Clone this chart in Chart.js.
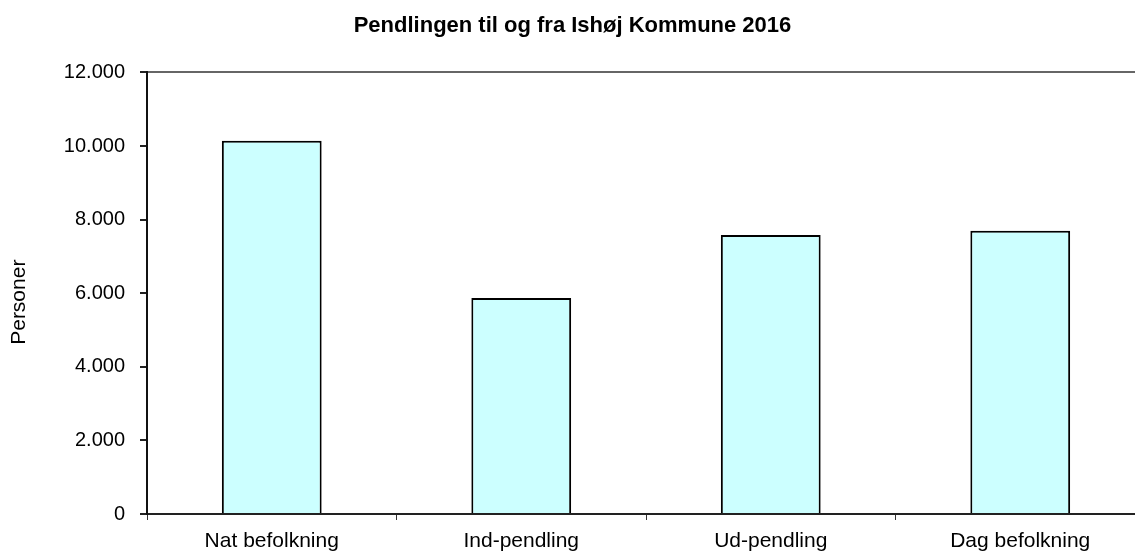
<!DOCTYPE html>
<html>
<head>
<meta charset="utf-8">
<script src="https://cdn.jsdelivr.net/npm/chart.js@4.4.0/dist/chart.umd.min.js"></script>
<style>
  html, body { margin: 0; padding: 0; background: #fff; overflow: hidden; }
  #wrap { position: relative; width: 1145px; height: 551px; }
</style>
</head>
<body>
<div id="wrap"><canvas id="c"></canvas></div>
<script>
const categories = ["Nat befolkning", "Ind-pendling", "Ud-pendling", "Dag befolkning"];
const personer = [10140, 5870, 7580, 7700];
const yTicks = [0, 2000, 4000, 6000, 8000, 10000, 12000];
const chartTitle = "Pendlingen til og fra Ishøj Kommune 2016";
const yAxisTitle = "Personer";

function fmt(v) {
  return String(v).replace(/\B(?=(\d{3})+(?!\d))/g, ".");
}

Chart.defaults.font.family = "'Liberation Sans', Arial, sans-serif";
Chart.defaults.color = "#000";

const yTitlePlugin = {
  id: "yTitlePlugin",
  afterDraw(chart) {
    const ctx = chart.ctx;
    const area = chart.chartArea;
    ctx.save();
    ctx.translate(19, (area.top + area.bottom) / 2 + 9);
    ctx.rotate(-Math.PI / 2);
    ctx.font = "21px 'Liberation Sans', Arial, sans-serif";
    ctx.fillStyle = "#000";
    ctx.textAlign = "center";
    ctx.textBaseline = "middle";
    ctx.fillText(yAxisTitle, 0, 0);
    ctx.restore();
  }
};

new Chart(document.getElementById("c"), {
  type: "bar",
  data: {
    labels: categories,
    datasets: [{
      data: personer,
      backgroundColor: "#CCFFFF",
      borderColor: "#000",
      borderWidth: 2,
      borderSkipped: "start",
      barPercentage: 0.4,
      categoryPercentage: 1.0
    }]
  },
  options: {
    responsive: true,
    maintainAspectRatio: false,
    animation: false,
    layout: { padding: { left: 0, right: 0, top: 0, bottom: 0 } },
    plugins: {
      legend: { display: false },
      tooltip: { enabled: false },
      title: {
        display: true,
        text: chartTitle,
        font: { size: 22, weight: "bold" },
        color: "#000",
        padding: { top: 13, bottom: 33 }
      }
    },
    scales: {
      x: {
        offset: true,
        border: { display: true, color: "#222", width: 2 },
        grid: {
          display: true,
          offset: true,
          drawOnChartArea: false,
          drawTicks: true,
          tickLength: 6,
          tickColor: "#333",
          tickWidth: 1
        },
        ticks: { font: { size: 21 }, color: "#000", padding: 9, maxRotation: 0 },
        afterFit: function (s) { s.height = 37; }
      },
      y: {
        min: 0,
        max: 12000,
        afterBuildTicks: function (s) { s.ticks = yTicks.map(v => ({ value: v })); },
        border: { display: true, color: "#111", width: 2 },
        grid: {
          display: true,
          drawOnChartArea: true,
          drawTicks: true,
          tickLength: 7,
          tickColor: "#222",
          lineWidth: 2,
          color: function (ctx) { return ctx.tick && ctx.tick.value === 12000 ? "#666" : "rgba(0,0,0,0)"; }
        },
        ticks: {
          font: { size: 20 },
          color: "#000",
          padding: 15,
          callback: function (v) { return fmt(v); }
        },
        title: { display: false, text: yAxisTitle },
        afterFit: function (s) { s.width = 147; }
      }
    }
  },
  plugins: [yTitlePlugin]
});
</script>
</body>
</html>
